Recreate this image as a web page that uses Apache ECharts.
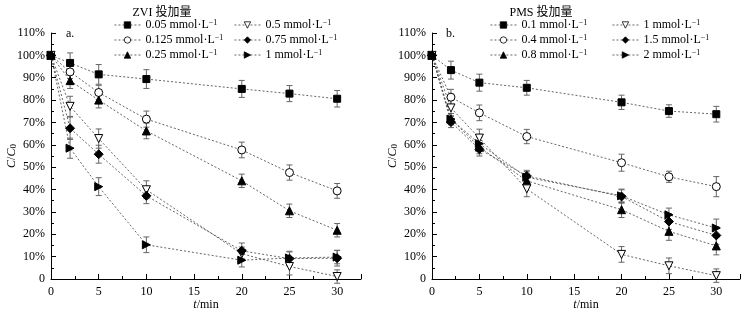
<!DOCTYPE html>
<html><head><meta charset="utf-8">
<script src="https://cdn.jsdelivr.net/npm/echarts@6/dist/echarts.min.js"></script>
<style>html,body{margin:0;padding:0;background:#fff}#c{width:743px;height:313px}</style>
</head><body><div id="c"></div>
<script>
var times = [0, 2, 5, 10, 20, 25, 30];
var xTicks = [0, 5, 10, 15, 20, 25, 30];
var yTicks = [0, 10, 20, 30, 40, 50, 60, 70, 80, 90, 100, 110];

var zviNames = ['0.05', '0.125', '0.25', '0.5', '0.75', '1'];
var zvi005 = [100, 96.6, 91.5, 89.4, 85.0, 82.9, 80.6];
var zvi0125 = [100, 92.6, 83.4, 71.5, 57.7, 47.6, 39.4];
var zvi025 = [100, 88.7, 80.0, 66.2, 43.9, 30.5, 21.8];
var zvi05 = [100, 77.2, 62.8, 39.9, 11.3, 5.6, 1.1];
var zvi075 = [100, 67.4, 55.8, 37.2, 12.6, 9.1, 9.3];
var zvi1 = [100, 58.5, 41.3, 15.3, 8.4, 9.4, 9.8];
var zvi005Err = [0, 4.5, 4.4, 4.2, 3.8, 3.6, 3.7];
var zvi0125Err = [0, 3.0, 3.2, 3.6, 3.5, 3.4, 3.3];
var zvi025Err = [0, 3.5, 3.5, 3.5, 3.0, 3.0, 3.0];
var zvi05Err = [0, 4.5, 4.3, 4.0, 3.0, 3.8, 3.0];
var zvi075Err = [0, 5.0, 4.0, 3.5, 3.5, 3.0, 3.5];
var zvi1Err = [0, 4.5, 4.0, 3.5, 3.0, 3.0, 3.0];

var pmsNames = ['0.1', '0.4', '0.8', '1', '1.5', '2'];
var pms01 = [100, 93.4, 87.8, 85.5, 79.0, 75.1, 73.7];
var pms04 = [100, 81.3, 74.3, 63.7, 52.0, 45.7, 41.3];
var pms08 = [100, 71.5, 59.0, 43.9, 31.0, 21.3, 14.8];
var pms1 = [100, 76.5, 63.0, 40.3, 11.0, 5.9, 1.5];
var pms15 = [100, 70.2, 58.0, 46.1, 36.9, 25.7, 19.5];
var pms2 = [100, 71.5, 60.5, 45.5, 37.2, 28.7, 22.8];
var pms01Err = [0, 4.0, 3.8, 3.3, 3.2, 2.8, 3.5];
var pms04Err = [0, 3.5, 3.5, 3.2, 3.8, 2.5, 4.5];
var pms08Err = [0, 2.5, 3.0, 3.0, 3.5, 4.0, 4.0];
var pms1Err = [0, 3.5, 4.0, 3.5, 3.5, 3.5, 3.0];
var pms15Err = [0, 2.5, 3.0, 2.5, 3.0, 3.5, 4.0];
var pms2Err = [0, 2.5, 3.0, 2.5, 3.0, 3.0, 4.0];

var FONT = 'Liberation Serif';
var symbolDefs = [
  {symbol: 'rect', rotate: 0, fill: '#000', size: 7},
  {symbol: 'circle', rotate: 0, fill: '#fff', size: 8},
  {symbol: 'triangle', rotate: 0, fill: '#000', size: 8},
  {symbol: 'triangle', rotate: 180, fill: '#fff', size: 8},
  {symbol: 'diamond', rotate: 0, fill: '#000', size: 9},
  {symbol: 'triangle', rotate: -90, fill: '#000', size: 8}
];

var display = {};
function lname(panel, n) { var k = panel + n; display[k] = n + ' mmol·L{sup|−1}'; return k; }

var series = [];
function addPanel(idx, panel, names, vals, errs) {
  vals.forEach(function (v, i) {
    var s = symbolDefs[i];
    var pts = times.map(function (t, j) { return [t, v[j]]; });
    series.push({
      type: 'line', name: lname(panel, names[i]), xAxisIndex: idx, yAxisIndex: idx,
      data: pts, symbol: s.symbol, symbolRotate: s.rotate, symbolSize: s.size,
      showAllSymbol: true, z: 5,
      itemStyle: {color: s.fill, borderColor: '#000', borderWidth: 1},
      lineStyle: {color: '#555', width: 0.9, type: [2, 2]}
    });
    series.push({
      type: 'custom', xAxisIndex: idx, yAxisIndex: idx, z: 3, silent: true,
      data: times.map(function (t, j) { return [t, v[j], errs[i][j]]; }),
      renderItem: function (params, api) {
        var x = api.value(0), y = api.value(1), e = api.value(2);
        if (!e) return null;
        var top = api.coord([x, y + e]), bot = api.coord([x, y - e]);
        var st = {stroke: '#666', lineWidth: 1};
        return {type: 'group', children: [
          {type: 'line', shape: {x1: top[0], y1: top[1], x2: bot[0], y2: bot[1]}, style: st},
          {type: 'line', shape: {x1: top[0] - 3, y1: top[1], x2: top[0] + 3, y2: top[1]}, style: st},
          {type: 'line', shape: {x1: bot[0] - 3, y1: bot[1], x2: bot[0] + 3, y2: bot[1]}, style: st}
        ]};
      }
    });
  });
}
addPanel(0, 'Z', zviNames, [zvi005, zvi0125, zvi025, zvi05, zvi075, zvi1],
  [zvi005Err, zvi0125Err, zvi025Err, zvi05Err, zvi075Err, zvi1Err]);
addPanel(1, 'P', pmsNames, [pms01, pms04, pms08, pms1, pms15, pms2],
  [pms01Err, pms04Err, pms08Err, pms1Err, pms15Err, pms2Err]);

function xAxis(idx) {
  return {
    type: 'value', gridIndex: idx, min: 0, max: 32.5, interval: 5,
    axisLine: {lineStyle: {color: '#000', width: 1}},
    axisTick: {inside: true, length: 5, lineStyle: {color: '#000'}},
    minorTick: {show: true, splitNumber: 2, length: 3, lineStyle: {color: '#000'}},
    splitLine: {show: false}, minorSplitLine: {show: false},
    axisLabel: {color: '#000', fontFamily: FONT, fontSize: 12, margin: 7,
      formatter: function (v) { return xTicks.indexOf(v) >= 0 ? String(v) : ''; }},
    name: '{i|t}/min', nameLocation: 'middle', nameGap: 20, nameMoveOverlap: false,
    nameTextStyle: {color: '#000', fontFamily: FONT, fontSize: 12,
      rich: {i: {fontStyle: 'italic', fontFamily: FONT, fontSize: 12, color: '#000'}}}
  };
}
function yAxis(idx) {
  return {
    type: 'value', gridIndex: idx, min: 0, max: 110, interval: 10,
    axisLine: {show: true, lineStyle: {color: '#000', width: 1}},
    axisTick: {show: true, inside: true, length: 5, lineStyle: {color: '#000'}},
    minorTick: {show: true, splitNumber: 2, length: 3, lineStyle: {color: '#000'}},
    splitLine: {show: false}, minorSplitLine: {show: false},
    axisLabel: {color: '#000', fontFamily: FONT, fontSize: 12, margin: 6,
      formatter: function (v) { return yTicks.indexOf(v) < 0 ? '' : (v === 0 ? '0' : v + '%'); }},
    name: '{i|C}/{i|C}{sub|0}', nameLocation: 'middle', nameGap: 33, nameMoveOverlap: false,
    nameTextStyle: {color: '#000', fontFamily: FONT, fontSize: 12,
      rich: {i: {fontStyle: 'italic', fontFamily: FONT, fontSize: 12, color: '#000'},
             sub: {fontFamily: FONT, fontSize: 9, color: '#000', verticalAlign: 'bottom', padding: [4, 0, 0, 0]}}}
  };
}
function legend(left, top, names) {
  return {
    left: left, top: top, orient: 'vertical', itemWidth: 26, itemHeight: 8, itemGap: 1,
    data: names, selectedMode: false, padding: 0,
    itemStyle: {borderWidth: 0.8},
    lineStyle: {width: 0.9},
    formatter: function (n) { return display[n]; },
    textStyle: {color: '#000', fontFamily: FONT, fontSize: 12, lineHeight: 12,
      rich: {sup: {fontFamily: FONT, fontSize: 8, color: '#000', verticalAlign: 'top', lineHeight: 8, padding: [0, 0, 6, 0]}}}
  };
}

var option = {
  animation: false,
  backgroundColor: '#fff',
  title: [
    {text: 'ZVI 投加量', left: 157, top: 2, textAlign: 'center',
      textStyle: {fontFamily: FONT + ', Noto Sans CJK SC', fontSize: 12, fontWeight: 'normal', color: '#000'}},
    {text: 'PMS 投加量', left: 536, top: 2, textAlign: 'center',
      textStyle: {fontFamily: FONT + ', Noto Sans CJK SC', fontSize: 12, fontWeight: 'normal', color: '#000'}}
  ],
  legend: [
    legend(114, 19, ['Z0.05', 'Z0.125', 'Z0.25']),
    legend(234, 19, ['Z0.5', 'Z0.75', 'Z1']),
    legend(490, 19, ['P0.1', 'P0.4', 'P0.8']),
    legend(612, 19, ['P1', 'P1.5', 'P2'])
  ],
  graphic: [
    {type: 'text', left: 66, top: 28, style: {text: 'a.', font: '12px "Liberation Serif"', fill: '#000'}},
    {type: 'text', left: 446, top: 28, style: {text: 'b.', font: '12px "Liberation Serif"', fill: '#000'}}
  ],
  grid: [
    {left: 51, top: 33, width: 310, height: 246, containLabel: false, outerBoundsMode: 'none'},
    {left: 432, top: 33, width: 308, height: 246, containLabel: false, outerBoundsMode: 'none'}
  ],
  xAxis: [xAxis(0), xAxis(1)],
  yAxis: [yAxis(0), yAxis(1)],
  series: series
};
var chart = echarts.init(document.getElementById('c'));
chart.setOption(option);
</script></body></html>
